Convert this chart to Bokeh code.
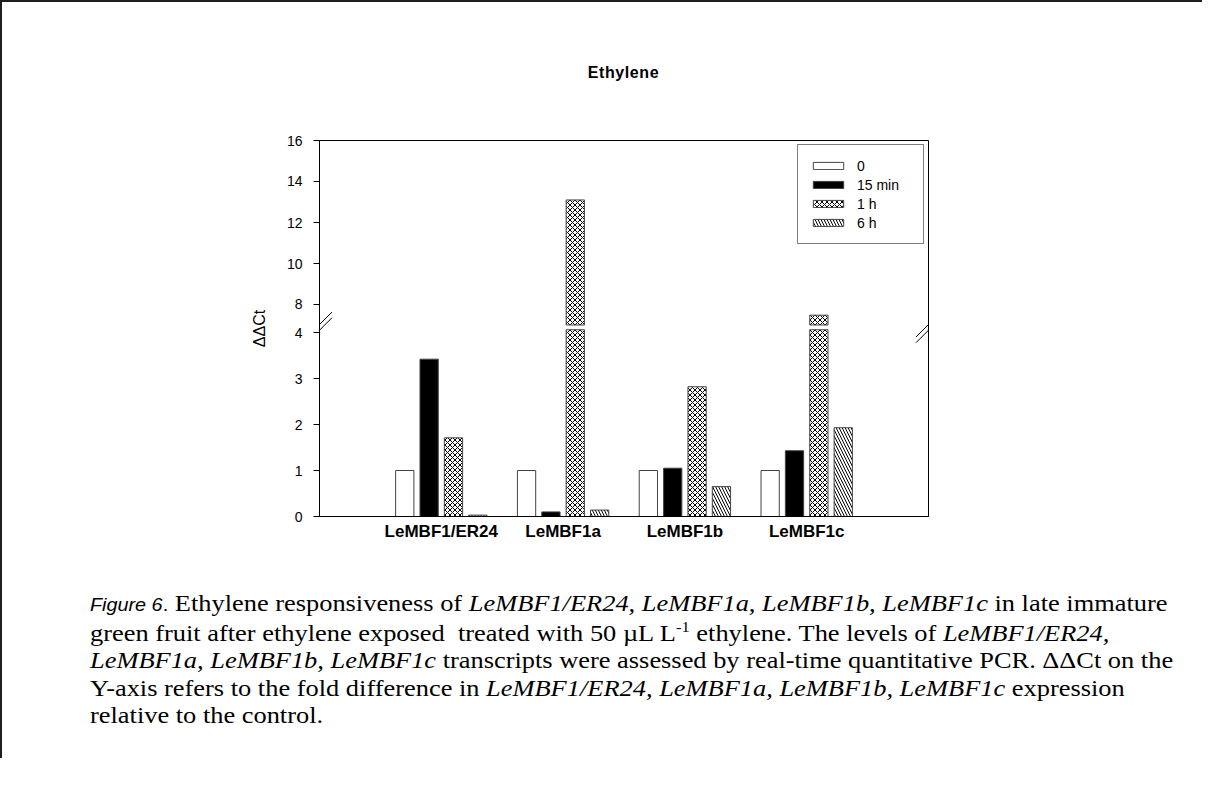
import numpy as np
from bokeh.plotting import figure
from bokeh.models import Range1d, FixedTicker, Legend, LegendItem, Arrow, Div
from bokeh.layouts import column
from bokeh.embed import file_html
from bokeh.resources import INLINE

# ---------------- data ----------------
genes = ["LeMBF1/ER24", "LeMBF1a", "LeMBF1b", "LeMBF1c"]
series_names = ["0", "15 min", "1 h", "6 h"]
v_0 = [1.00, 1.00, 1.00, 1.00]
v_15min = [3.42, 0.10, 1.05, 1.43]
v_1h = [1.71, 13.10, 2.82, 7.48]
v_6h = [0.03, 0.14, 0.65, 1.93]
lower_ticks = [0, 1, 2, 3, 4]
upper_ticks = [8, 10, 12, 14, 16]
title_text = "Ethylene"
y_label = "ΔΔCt"

# ---------------- axis break geometry ----------------
FRAME_H = 376
LO_PX = 46.0      # px per unit, lower segment
UP_PX = 20.5      # px per unit, upper segment
LO_TOP = 4.06     # top of lower segment
UP_BOT = 7.0      # bottom of upper segment
UP_TOP = 16.0
lo_end = FRAME_H / LO_PX
up_start = UP_TOP - FRAME_H / UP_PX


def to_primary(v):
    return round((v - up_start) * UP_PX / LO_PX, 6)


SANS = "Liberation Sans"
LEFT = 317
FRAME_W = 609

# title block
title_div = Div(
    text=('<div style="width:%dpx; margin-left:%dpx; padding-top:61px; text-align:center;'
          ' font-family:\'Liberation Sans\', Arial, sans-serif; font-weight:bold; font-size:16px;'
          ' line-height:20px; letter-spacing:0.6px; color:#000;">%s</div>') % (FRAME_W, LEFT, title_text),
    width=1190, height=100, margin=0)

p = figure(width=1190, height=446, x_range=Range1d(0, 5), y_range=Range1d(0, lo_end),
           output_backend="svg", toolbar_location=None, title=None,
           min_border_left=LEFT, min_border_right=1190 - LEFT - FRAME_W,
           min_border_top=38, min_border_bottom=32)
p.extra_y_ranges = {"upper": Range1d(up_start, UP_TOP)}
p.background_fill_color = "white"
p.border_fill_color = "white"
p.outline_line_color = "black"
p.outline_line_width = 1
p.xgrid.visible = False
p.ygrid.visible = False

# y axis (broken)
tick_pos = [float(t) for t in lower_ticks] + [to_primary(t) for t in upper_ticks]
tick_lab = [str(t) for t in lower_ticks] + [str(t) for t in upper_ticks]
yax = p.yaxis[0]
yax.ticker = FixedTicker(ticks=tick_pos, minor_ticks=[])
yax.major_label_overrides = {pos: lab for pos, lab in zip(tick_pos, tick_lab)}
yax.major_tick_out = 6
yax.major_tick_in = 0
yax.minor_tick_out = 0
yax.minor_tick_in = 0
yax.major_label_standoff = 11
yax.major_label_text_font = SANS
yax.major_label_text_font_size = "14px"
yax.major_label_text_color = "black"
yax.axis_line_color = "black"
yax.major_tick_line_color = "black"
yax.axis_label = y_label
yax.axis_label_text_font = SANS
yax.axis_label_text_font_size = "16px"
yax.axis_label_text_font_style = "normal"
yax.axis_label_text_color = "black"
yax.axis_label_standoff = 16

# x axis
xs = np.arange(1, len(genes) + 1)
xax = p.xaxis[0]
xax.ticker = FixedTicker(ticks=list(xs), minor_ticks=[])
xax.major_label_overrides = {int(x): g for x, g in zip(xs, genes)}
xax.major_tick_out = 0
xax.major_tick_in = 0
xax.minor_tick_out = 0
xax.minor_tick_in = 0
xax.major_label_standoff = 5
xax.major_label_text_font = SANS
xax.major_label_text_font_size = "17px"
xax.major_label_text_font_style = "bold"
xax.major_label_text_color = "black"
xax.axis_line_color = "black"

# bars
offsets = [-0.3, -0.1, 0.1, 0.3]
all_vals = [v_0, v_15min, v_1h, v_6h]
styles = [
    dict(fill_color="white"),
    dict(fill_color="black"),
    dict(fill_color="white", hatch_pattern="x", hatch_scale=5, hatch_color="black", hatch_weight=1),
    dict(fill_color="white", hatch_pattern="\\", hatch_scale=6, hatch_color="black", hatch_weight=1),
]
items = []
for name, vals, off, st in zip(series_names, all_vals, offsets, styles):
    vals = np.array(vals, dtype=float)
    r = p.vbar(x=xs + off, top=np.minimum(vals, LO_TOP), bottom=0, width=0.15,
               line_color="#444444", line_width=1, **st)
    mask = vals > UP_BOT
    if mask.any():
        p.vbar(x=(xs + off)[mask], top=vals[mask], bottom=UP_BOT, width=0.15,
               y_range_name="upper", line_color="#444444", line_width=1, **st)
    items.append(LegendItem(label=name, renderers=[r]))

legend = Legend(items=items, location="top_right", border_line_color="black",
                border_line_width=1, background_fill_color="white", background_fill_alpha=1,
                glyph_width=38, glyph_height=9, label_height=19, label_width=55,
                label_standoff=10, spacing=0, padding=11, margin=4, label_text_font=SANS,
                label_text_font_size="14px", label_text_color="black")
p.add_layout(legend)

# break marks (double slashes on left and right edges)
y_lo = LO_TOP
y_up = to_primary(UP_BOT)
dx = 12.5 / (FRAME_W / 5)
dy = 12.5 / LO_PX
for xe in (0, 5):
    for yc in (y_up + 0.01, y_lo - 0.01):
        p.add_layout(Arrow(start=None, end=None, x_start=xe - dx, y_start=yc - dy,
                           x_end=xe + dx, y_end=yc + dy, line_color="black", line_width=1))

caption_html = (
    '<div style="padding:37px 0 0 83px;">'
    '<div style="font-family:\'Liberation Serif\', \'Times New Roman\', Times, serif; font-size:24px;'
    ' line-height:27.5px; color:#000; white-space:nowrap; transform:scaleX(1.1); transform-origin:0 0;">'
    '<span style="font-family:\'Liberation Sans\'; font-style:italic; font-size:18px;">Figure 6</span>'
    '<span style="font-family:\'Liberation Sans\'; font-size:18px;">.</span>'
    ' Ethylene responsiveness of <i>LeMBF1/ER24, LeMBF1a, LeMBF1b, LeMBF1c</i> in late immature<br>'
    'green fruit after ethylene exposed&nbsp; treated with 50 &micro;L L<sup style="font-size:15px; line-height:0;">-1</sup> ethylene. The levels of <i>LeMBF1/ER24,</i><br>'
    '<i>LeMBF1a, LeMBF1b, LeMBF1c</i> transcripts were assessed by real-time quantitative PCR. &Delta;&Delta;Ct on the<br>'
    'Y-axis refers to the fold difference in <i>LeMBF1/ER24, LeMBF1a, LeMBF1b, LeMBF1c</i> expression<br>'
    'relative to the control.'
    '</div></div>'
)
cap = Div(text=caption_html, width=1190, height=200)

layout = column(title_div, p, cap,
                styles={"border-top": "2px solid #1e1e1e", "border-left": "2px solid #1e1e1e"})

open("out.html", "w").write(file_html(layout, INLINE))
